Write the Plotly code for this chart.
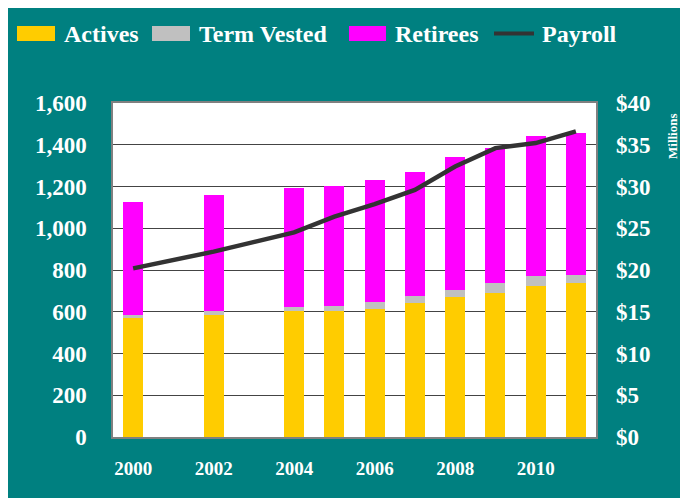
import plotly.graph_objects as go

years = [2000, 2002, 2004, 2005, 2006, 2007, 2008, 2009, 2010, 2011]
actives = [572, 584, 604, 604, 613, 640, 671, 690, 723, 738]
term_vested = [12, 20, 19, 24, 34, 35, 33, 48, 48, 38]
retirees = [542, 556, 571, 575, 584, 594, 637, 646, 671, 680]
payroll = [20.2, 22.2, 24.5, 26.4, 27.9, 29.6, 32.4, 34.6, 35.2, 36.6]
x_ticks = [2000, 2002, 2004, 2006, 2008, 2010]

names = ["Actives", "Term Vested", "Retirees", "Payroll"]
colors = ["#FFCC00", "#C0C0C0", "#FF00FF", "#333333"]

# page places the figure at an 8px body margin
OFF = 8
W, H = 688 - OFF, 498 - OFF
L, R, T, B = 113 - OFF, 596 - OFF, 103 - OFF, 437 - OFF
TEAL = "#008080"
FONT = "Liberation Serif"


def px2x(px):
    return (px - OFF - L) / (R - L)


def px2y(py):
    return (B - (py - OFF)) / (B - T)


fig = go.Figure()
for vals, nm, col in zip([actives, term_vested, retirees], names[:3], colors[:3]):
    fig.add_trace(go.Bar(x=years, y=vals, name=nm, marker=dict(color=col, line=dict(width=0)),
                         width=0.5, showlegend=False))
fig.add_trace(go.Scatter(x=years, y=payroll, name=names[3], yaxis="y2", mode="lines",
                         line=dict(color=colors[3], width=4.5), showlegend=False))

tickfont = dict(family=FONT, size=23, color="white", weight="bold")

fig.update_layout(
    width=W, height=H,
    barmode="stack",
    paper_bgcolor=TEAL,
    plot_bgcolor="white",
    margin=dict(l=L, r=W - R, t=T, b=H - B, pad=0),
    xaxis=dict(range=[1999.5, 2011.5], tickvals=x_ticks, ticktext=[str(v) for v in x_ticks],
               showgrid=False, zeroline=False, showline=True, mirror=True,
               linecolor="#808080", linewidth=1.5,
               tickfont=dict(family=FONT, size=19, color="white", weight="bold"),
               ticklabelstandoff=13),
    yaxis=dict(range=[0, 1600], dtick=200, tickformat=",", showgrid=True,
               gridcolor="#444444", gridwidth=1, zeroline=False,
               showline=True, mirror=True, linecolor="#808080", linewidth=1.5,
               tickfont=tickfont, ticklabelstandoff=20),
    yaxis2=dict(range=[0, 40], dtick=5, tickprefix="$", overlaying="y", side="right",
                showgrid=False, zeroline=False, showline=False,
                tickfont=tickfont, ticklabelstandoff=19),
)

shapes = []
annotations = []

# legend drawn manually
leg_items = [(17, 55, 62), (152, 190, 197), (349, 386, 393), (494, 534, 540)]
for i, (bx0, bx1, tx) in enumerate(leg_items):
    if i < 3:
        shapes.append(dict(type="rect", xref="paper", yref="paper", x0=px2x(bx0), x1=px2x(bx1),
                           y0=px2y(41), y1=px2y(26), fillcolor=colors[i], line=dict(width=0)))
    else:
        shapes.append(dict(type="line", xref="paper", yref="paper", x0=px2x(bx0), x1=px2x(bx1),
                           y0=px2y(33.5), y1=px2y(33.5), line=dict(color=colors[i], width=4)))
    annotations.append(dict(xref="paper", yref="paper", x=px2x(tx), y=px2y(34), text=names[i],
                            showarrow=False, xanchor="left", yanchor="middle",
                            font=dict(family=FONT, size=24, color="white", weight="bold")))

annotations.append(dict(xref="paper", yref="paper", x=px2x(673), y=px2y(136), text="Millions",
                        textangle=-90, showarrow=False, xanchor="center", yanchor="middle",
                        borderpad=0,
                        font=dict(family=FONT, size=13, color="white", weight="bold")))

fig.update_layout(shapes=shapes, annotations=annotations)
fig.write_html("out.html")
